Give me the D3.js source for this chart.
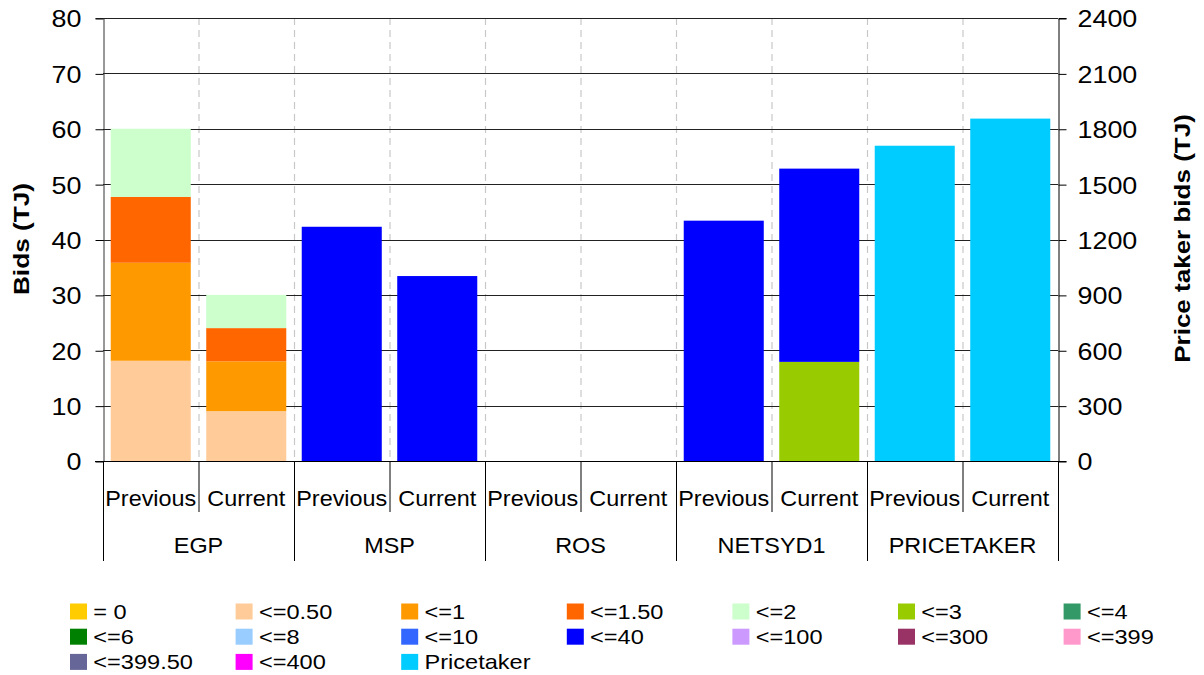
<!DOCTYPE html>
<html>
<head>
<meta charset="utf-8">
<script src="https://cdn.jsdelivr.net/npm/d3@7"></script>
<style>
  html, body { margin: 0; padding: 0; background: #fff; }
  svg { display: block; font-family: "Liberation Sans", Arial, sans-serif; }
</style>
</head>
<body>
<svg id="chart" width="1204" height="675"></svg>
<script>
// Participants and bidding periods
const groups = ["EGP", "MSP", "ROS", "NETSYD1", "PRICETAKER"];
const periods = ["Previous", "Current"];

// Bid price bands (legend order) and their colours
const bands = ["= 0", "<=0.50", "<=1", "<=1.50", "<=2", "<=3", "<=4", "<=6", "<=8",
               "<=10", "<=40", "<=100", "<=300", "<=399", "<=399.50", "<=400", "Pricetaker"];
const bandColors = ["#FFCC00", "#FFCC99", "#FF9900", "#FF6600", "#CCFFCC", "#99CC00", "#339966",
                    "#008000", "#99CCFF", "#3366FF", "#0000FF", "#CC99FF", "#993366", "#FF99CC",
                    "#666699", "#FF00FF", "#00CCFF"];

// Bid quantities (TJ) per band, one value per group/period slot:
// EGP Prev, EGP Cur, MSP Prev, MSP Cur, ROS Prev, ROS Cur, NETSYD1 Prev, NETSYD1 Cur, PT Prev, PT Cur
const bandEq0    = [0, 0, 0, 0, 0, 0, 0, 0, 0, 0];
const band050    = [18.1, 9, 0, 0, 0, 0, 0, 0, 0, 0];
const band1      = [17.7, 9, 0, 0, 0, 0, 0, 0, 0, 0];
const band150    = [11.9, 6, 0, 0, 0, 0, 0, 0, 0, 0];
const band2      = [12.3, 6, 0, 0, 0, 0, 0, 0, 0, 0];
const band3      = [0, 0, 0, 0, 0, 0, 0, 17.9, 0, 0];
const band4      = [0, 0, 0, 0, 0, 0, 0, 0, 0, 0];
const band6      = [0, 0, 0, 0, 0, 0, 0, 0, 0, 0];
const band8      = [0, 0, 0, 0, 0, 0, 0, 0, 0, 0];
const band10     = [0, 0, 0, 0, 0, 0, 0, 0, 0, 0];
const band40     = [0, 0, 42.3, 33.4, 0, 0, 43.4, 34.9, 0, 0];
const band100    = [0, 0, 0, 0, 0, 0, 0, 0, 0, 0];
const band300    = [0, 0, 0, 0, 0, 0, 0, 0, 0, 0];
const band399    = [0, 0, 0, 0, 0, 0, 0, 0, 0, 0];
const band39950  = [0, 0, 0, 0, 0, 0, 0, 0, 0, 0];
const band400    = [0, 0, 0, 0, 0, 0, 0, 0, 0, 0];
// Price taker bids use the right-hand axis
const pricetaker = [0, 0, 0, 0, 0, 0, 0, 0, 1708, 1855];

const leftTicks = [0, 10, 20, 30, 40, 50, 60, 70, 80];
const rightTicks = [0, 300, 600, 900, 1200, 1500, 1800, 2100, 2400];

const bandValues = [bandEq0, band050, band1, band150, band2, band3, band4, band6, band8,
                    band10, band40, band100, band300, band399, band39950, band400];

// Slot list
const slots = [];
groups.forEach(g => periods.forEach(p => slots.push(g + "|" + p)));

const svg = d3.select("#chart");
const pL = 103, pR = 1058, pT = 18, pB = 461;
const FONT = "'Liberation Sans', Arial, sans-serif";

const x = d3.scaleBand().domain(slots).range([pL, pR]).paddingInner(0.162).paddingOuter(0.081);
const yL = d3.scaleLinear().domain([0, 80]).range([pB, pT]);
const yR = d3.scaleLinear().domain([0, 2400]).range([pB, pT]);
const step = x.step();
const slotLeft = i => pL + i * step;

// Vertical dashed separators between slots
svg.append("g").selectAll("line").data(d3.range(1, slots.length)).join("line")
  .attr("x1", i => slotLeft(i) + 0.5).attr("x2", i => slotLeft(i) + 0.5)
  .attr("y1", pT).attr("y2", pB)
  .attr("stroke", "#c8c8c8").attr("stroke-width", 1.2).attr("stroke-dasharray", "7,5");

// Horizontal gridlines
svg.append("g").selectAll("line").data(leftTicks.slice(1)).join("line")
  .attr("x1", pL).attr("x2", pR)
  .attr("y1", d => Math.round(yL(d)) + 0.5).attr("y2", d => Math.round(yL(d)) + 0.5)
  .attr("stroke", "#222").attr("stroke-width", 1);

// Stacked bars (left axis)
const rows = slots.map((s, i) => {
  const r = { slot: s };
  bands.slice(0, 16).forEach((b, j) => r[b] = bandValues[j][i]);
  return r;
});
const stack = d3.stack().keys(bands.slice(0, 16))(rows);
svg.append("g").selectAll("g").data(stack).join("g")
  .attr("fill", (d, j) => bandColors[j])
  .selectAll("rect").data(d => d.filter(v => v[1] - v[0] > 0)).join("rect")
  .attr("x", d => x(d.data.slot))
  .attr("width", x.bandwidth())
  .attr("y", d => yL(d[1]))
  .attr("height", d => yL(d[0]) - yL(d[1]));

// Price taker bars (right axis)
svg.append("g").selectAll("rect")
  .data(slots.map((s, i) => ({ slot: s, v: pricetaker[i] })).filter(d => d.v > 0)).join("rect")
  .attr("x", d => x(d.slot)).attr("width", x.bandwidth())
  .attr("y", d => yR(d.v)).attr("height", d => yR(0) - yR(d.v))
  .attr("fill", bandColors[16]);

// Left axis (labels slightly widened)
const axL = svg.append("g").attr("transform", `translate(${pL + 0.5},0)`)
  .call(d3.axisLeft(yL).tickValues(leftTicks).tickSize(8).tickFormat(d3.format("d")));
axL.select(".domain").attr("stroke", "#333");
axL.selectAll(".tick line").attr("stroke", "#000").attr("transform", "translate(0,0.5)");
axL.selectAll("text").attr("x", 0).attr("dy", "0.35em")
  .attr("transform", "translate(-22,0.5) scale(1.12,1)")
  .attr("font-size", 24).attr("fill", "#000").attr("font-family", FONT);

// Right axis
const axR = svg.append("g").attr("transform", `translate(${pR + 0.5},0)`)
  .call(d3.axisRight(yR).tickValues(rightTicks).tickSize(8).tickFormat(d3.format("d")));
axR.select(".domain").attr("stroke", "#000");
axR.selectAll(".tick line").attr("stroke", "#000").attr("transform", "translate(0,0.5)");
axR.selectAll("text").attr("x", 0).attr("dy", "0.35em")
  .attr("transform", "translate(19,0.5) scale(1.12,1)")
  .attr("font-size", 24).attr("fill", "#000").attr("font-family", FONT);

// Bottom baseline
svg.append("line").attr("x1", pL - 8).attr("x2", pR + 8)
  .attr("y1", pB + 0.5).attr("y2", pB + 0.5).attr("stroke", "#000");

// Multi-level category axis: slot dividers and group dividers
svg.append("g").selectAll("line").data(d3.range(0, slots.length + 1)).join("line")
  .attr("x1", i => slotLeft(i) + 0.5).attr("x2", i => slotLeft(i) + 0.5)
  .attr("y1", pB)
  .attr("y2", i => i % 2 === 0 ? 561 : 512)
  .attr("stroke", "#000");

svg.append("g").selectAll("text").data(slots).join("text")
  .attr("transform", d => `translate(${x(d) + x.bandwidth() / 2},498) scale(1.04,1)`)
  .attr("text-anchor", "middle").attr("dy", "0.35em")
  .attr("font-size", 22.5).text(d => d.split("|")[1]);

svg.append("g").selectAll("text").data(groups).join("text")
  .attr("transform", (g, i) => `translate(${slotLeft(i * 2) + step},545) scale(1.04,1)`)
  .attr("text-anchor", "middle").attr("dy", "0.35em")
  .attr("font-size", 22.5).text(d => d);

// Axis titles (rotated, widened along the text direction)
svg.append("text").attr("transform", `translate(29,239) rotate(-90) scale(1.22,1)`)
  .attr("text-anchor", "middle").attr("font-size", 21.5).attr("font-weight", "bold").text("Bids (TJ)");
svg.append("text").attr("transform", `translate(1190,238.5) rotate(-90) scale(1.21,1)`)
  .attr("text-anchor", "middle").attr("font-size", 21.5).attr("font-weight", "bold").text("Price taker bids (TJ)");

// Legend: 7 columns, 3 rows
const legend = svg.append("g").selectAll("g").data(bands).join("g")
  .attr("transform", (d, i) => `translate(${70 + (i % 7) * 165.6},${603.5 + Math.floor(i / 7) * 25.2})`);
legend.append("rect").attr("width", 17).attr("height", 16).attr("fill", (d, i) => bandColors[i]);
legend.append("text").attr("transform", "translate(23.3,8) scale(1.15,1)")
  .attr("dy", "0.35em").attr("font-size", 20.5).text(d => d);
</script>
</body>
</html>
